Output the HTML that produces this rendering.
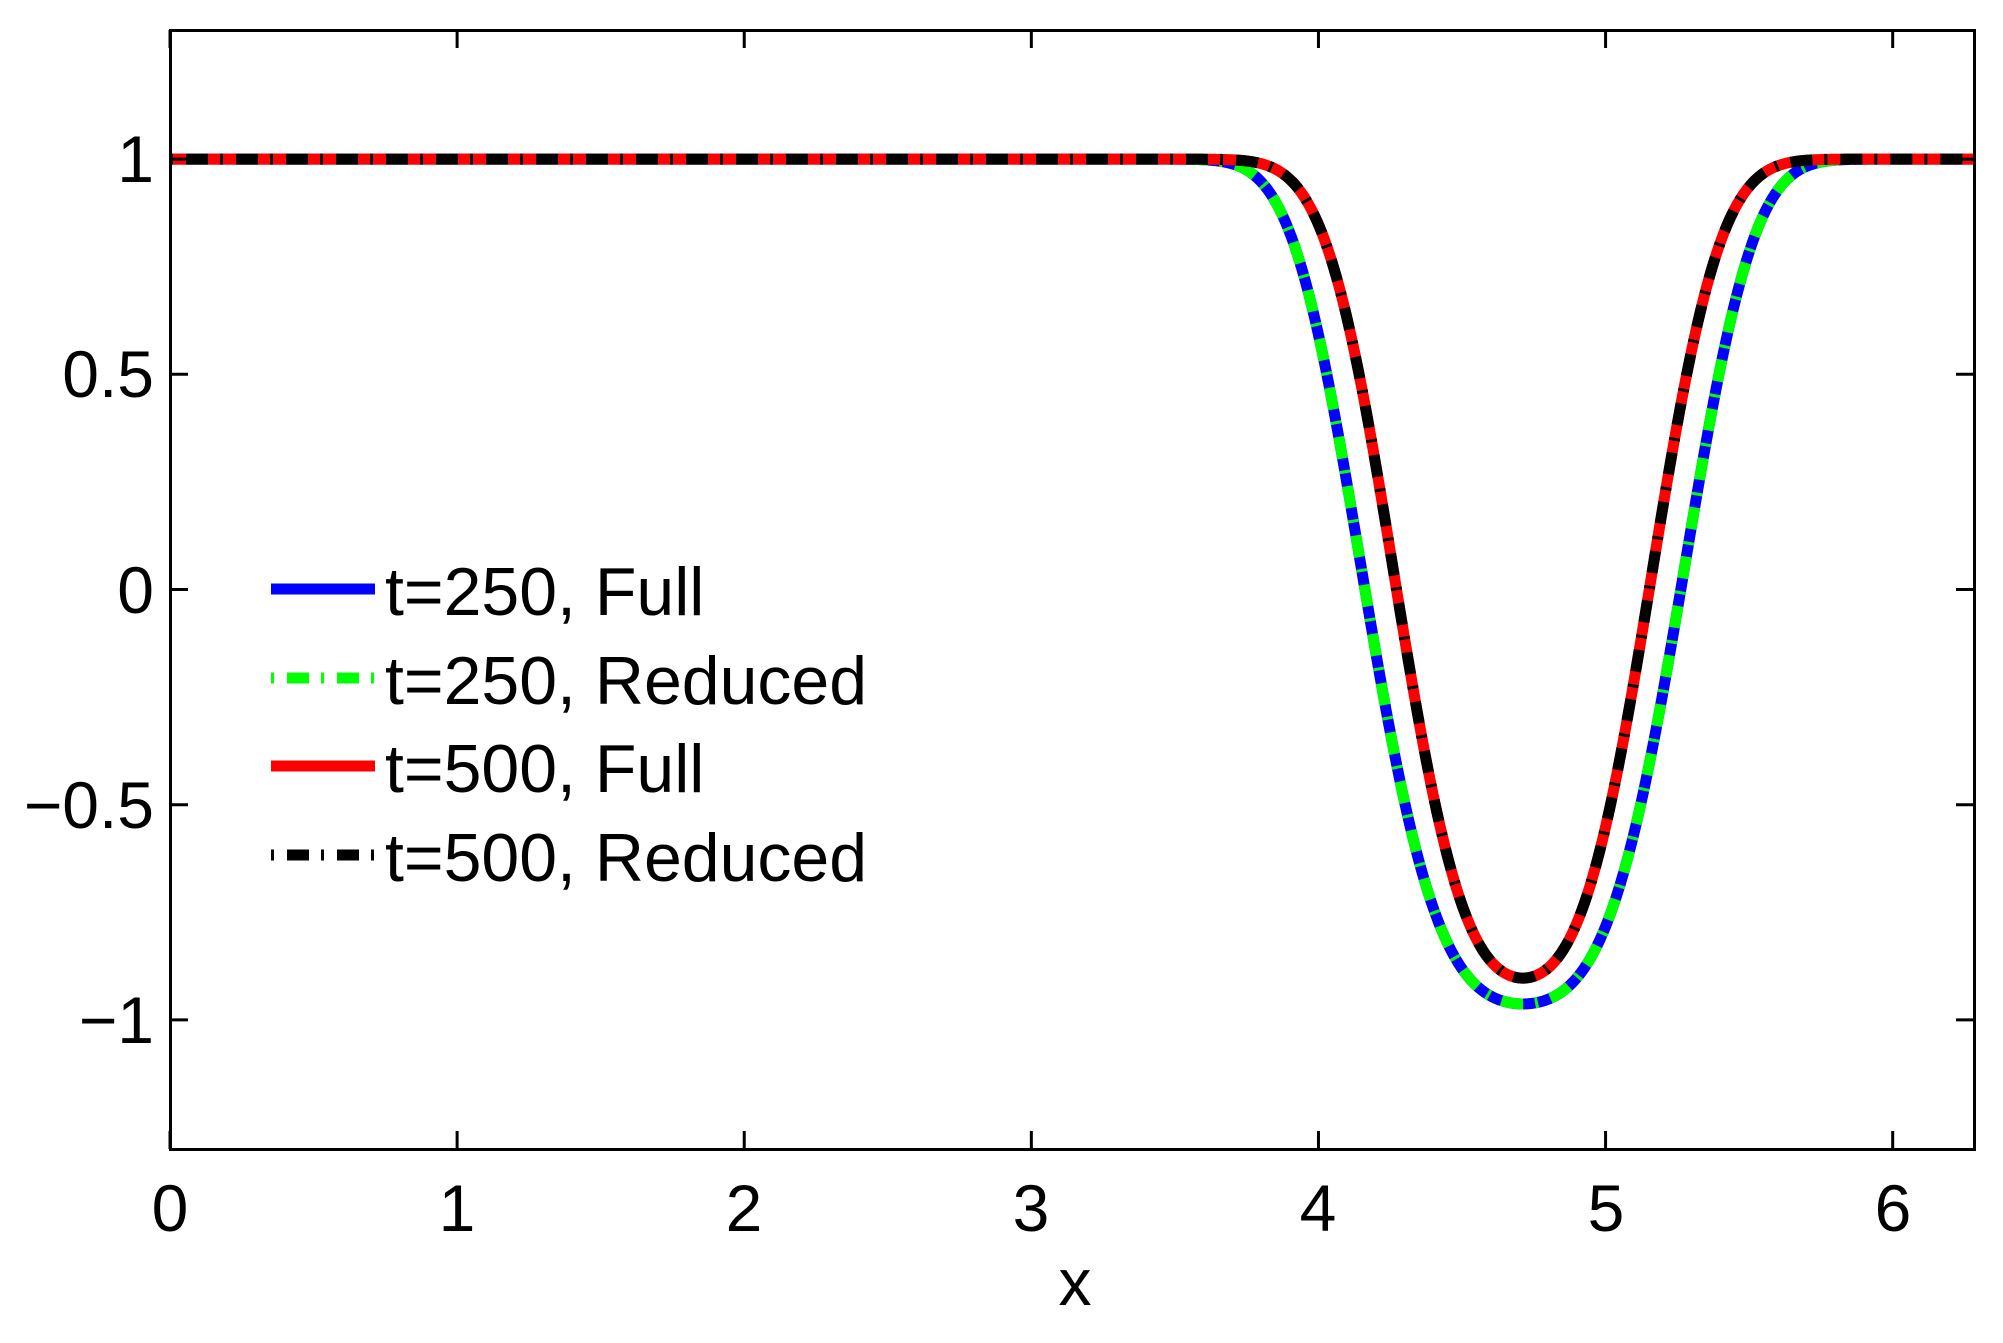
<!DOCTYPE html>
<html><head><meta charset="utf-8"><style>
html,body{margin:0;padding:0;background:#fff;}
svg{display:block;}
text{font-family:"Liberation Sans",sans-serif;fill:#000;}
</style></head><body>
<svg id="s" width="2003" height="1343" viewBox="0 0 2003 1343" xmlns="http://www.w3.org/2000/svg">
<rect width="2003" height="1343" fill="#fff"/>
<g id="curves"></g>
<rect x="170.5" y="30.5" width="1804" height="1119" fill="none" stroke="#000" stroke-width="3"/>
<g id="ticks" stroke="#000" stroke-width="3"></g>
<g font-size="66" text-anchor="middle">
<text x="170" y="1231">0</text>
<text x="457" y="1231">1</text>
<text x="744" y="1231">2</text>
<text x="1031" y="1231">3</text>
<text x="1318" y="1231">4</text>
<text x="1606" y="1231">5</text>
<text x="1893" y="1231">6</text>
<text x="1075" y="1305">x</text>
</g>
<g font-size="66" text-anchor="end">
<text x="154" y="182">1</text>
<text x="154" y="397">0.5</text>
<text x="154" y="613">0</text>
<text x="154" y="828">−0.5</text>
<text x="154" y="1043">−1</text>
</g>
<g stroke-width="11" fill="none">
<line x1="271" y1="589" x2="375" y2="589" stroke="#0000ff"/>
<line x1="271" y1="678" x2="375" y2="678" stroke="#00ff00" stroke-dasharray="3 13 22 12"/>
<line x1="271" y1="766" x2="375" y2="766" stroke="#ff0000"/>
<line x1="271" y1="855" x2="375" y2="855" stroke="#000" stroke-dasharray="3 13 22 12"/>
</g>
<g font-size="68">
<text x="385" y="615">t=250, Full</text>
<text x="385" y="704">t=250, Reduced</text>
<text x="385" y="792">t=500, Full</text>
<text x="385" y="881">t=500, Reduced</text>
</g>
</svg>
<script>
(function(){
var L=170,R=1974,T=30,B=1149;
function X(x){return L+(x/(2*Math.PI))*(R-L);}
function Y(y){return T+(1.3-y)/2.6*(B-T);}
function path(d,w,p,e){
 var c=4.712,s='',e0=Math.pow(e*e,p/2),wp=Math.pow(w,p);
 for(var i=0;i<=1400;i++){
  var x=2*Math.PI*i/1400, r=Math.abs(x-c);
  var g=(Math.pow(r*r+e*e,p/2)-e0)/wp;
  var u=1-d*Math.exp(-g);
  s+=(i?'L':'M')+X(x).toFixed(2)+' '+Y(u).toFixed(2);
 }
 return s;
}
var p1=path(1.963,0.6497,3.56,0.2), p2=path(1.903,0.5326,3.0,0.15);
var g=document.getElementById('curves');
var specs=[[p1,'#0000ff',''],[p1,'#00ff00','3 13 22 12'],[p2,'#ff0000',''],[p2,'#000000','3 13 22 12']];
var h='';
specs.forEach(function(s){
 h+='<path d="'+s[0]+'" fill="none" stroke="'+s[1]+'" stroke-width="11" stroke-linejoin="round"'+(s[2]?' stroke-dasharray="'+s[2]+'"':'')+'/>';
});
g.innerHTML=h;
var t='';
for(var k=0;k<=6;k++){var x=X(k);t+='<line x1="'+x+'" y1="'+B+'" x2="'+x+'" y2="'+(B-18)+'"/><line x1="'+x+'" y1="'+T+'" x2="'+x+'" y2="'+(T+18)+'"/>';}
[1,0.5,0,-0.5,-1].forEach(function(v){var y=Y(v);t+='<line x1="'+L+'" y1="'+y+'" x2="'+(L+18)+'" y2="'+y+'"/><line x1="'+R+'" y1="'+y+'" x2="'+(R-18)+'" y2="'+y+'"/>';});
document.getElementById('ticks').innerHTML=t;
})();
</script>
</body></html>
